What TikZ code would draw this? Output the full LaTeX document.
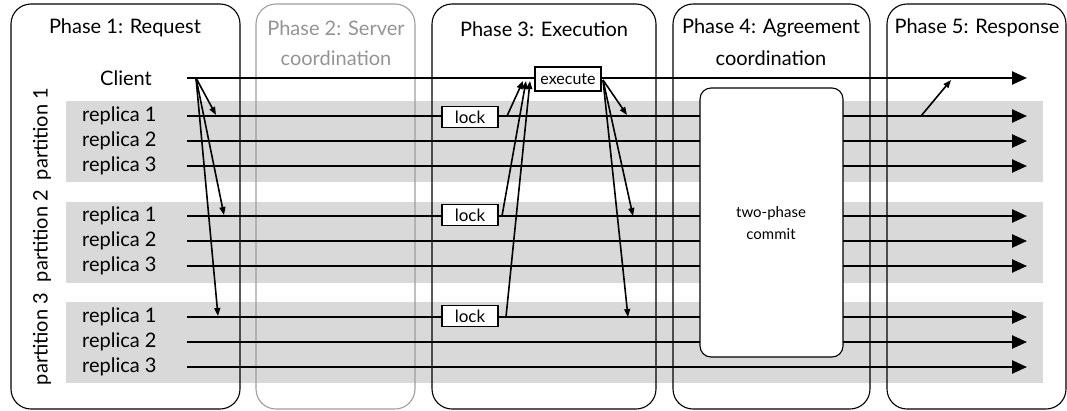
\documentclass[tikz,border=0pt]{standalone}
\usepackage{fontspec}
\setmainfont{Lato}
\usetikzlibrary{arrows.meta}
\begin{document}
\begin{tikzpicture}[x=1pt,y=-1pt,
  lbl/.style={font=\fontsize{20}{24}\selectfont, inner sep=0pt},
  band/.style={fill=black!15, draw=none},
  phasebox/.style={draw=black, line width=1.1pt, rounded corners=20pt},
  greybox/.style={draw=black!38, line width=1.1pt, rounded corners=20pt},
  timeline/.style={line width=2.4pt, -{Triangle[length=15pt,width=13pt]}},
  msg/.style={line width=1.6pt, -{Triangle[length=8pt,width=6pt]}},
  opbox/.style={draw=black, fill=white, line width=1.8pt, inner sep=0pt},
  commitbox/.style={draw=black, fill=white, line width=1.1pt, rounded corners=11pt, inner sep=0pt}
]
\useasboundingbox (0,0) rectangle (1067,410);
% grey partition bands
\fill[band] (66,101) rectangle (1043,182);
\fill[band] (66,202) rectangle (1043,283);
\fill[band] (66,302) rectangle (1043,383);
% phase boxes
\draw[phasebox] (11,4) rectangle (240,409);
\draw[greybox] (256,4) rectangle (415,409);
\draw[phasebox] (432,4) rectangle (656,409);
\draw[phasebox] (673,4) rectangle (870,409);
\draw[phasebox] (887,4) rectangle (1066,409);
% titles
\node[lbl] (t1) at (125,28) {Phase 1: Request};
\node[lbl, text=black!42] (t2a) at (336,28) {Phase 2: Server};
\node[lbl, text=black!42] (t2b) at (336,58) {coordination};
\node[lbl] (t3) at (544,29) {Phase 3: Execution};
\node[lbl] (t4a) at (771,28) {Phase 4: Agreement};
\node[lbl] (t4b) at (771,58) {coordination};
\node[lbl] (t5) at (977,28) {Phase 5: Response};
% partition labels
\node[lbl, rotate=90] (p1) at (42,134) {partition 1};
\node[lbl, rotate=90] (p2) at (42,236) {partition 2};
\node[lbl, rotate=90] (p3) at (42,339) {partition 3};
% row labels
\node[lbl] (cl) at (126,78) {Client};
\foreach \p/\y in {1/116,2/216,3/317}{
  \node[lbl, anchor=west] (r\p a) at (82,\y) {replica 1};
  \node[lbl, anchor=west] (r\p b) at (82,\y+25) {replica 2};
  \node[lbl, anchor=west] (r\p c) at (82,\y+50) {replica 3};
}
% timelines
\coordinate (cs) at (187,78); \coordinate (ce) at (1027,78);
\draw[timeline] (cs) -- (ce);
\foreach \p/\y in {1/116,2/216,3/317}{
  \foreach \r/\d in {a/0,b/25,c/50}{
    \coordinate (s\p\r) at (187,\y+\d);
    \coordinate (e\p\r) at (1027,\y+\d);
    \draw[timeline] (s\p\r) -- (e\p\r);
  }
}
% two-phase commit
\node[commitbox, minimum width=143pt, minimum height=269pt] (tpc) at (771.5,222.5) {};
\node[lbl, font=\fontsize{15}{18}\selectfont] (tpct) at (771,213) {two-phase};
\node[lbl, font=\fontsize{15}{18}\selectfont] (tpcc) at (771,234) {commit};
% lock / execute
\node[opbox, font=\fontsize{17}{20}\selectfont, minimum width=56pt, minimum height=21pt] (l1) at (470,117) {lock};
\node[opbox, font=\fontsize{17}{20}\selectfont, minimum width=56pt, minimum height=21pt] (l2) at (470,215) {lock};
\node[opbox, font=\fontsize{17}{20}\selectfont, minimum width=56pt, minimum height=21pt] (l3) at (470,316) {lock};
\node[opbox, font=\fontsize{16}{19}\selectfont, minimum width=66pt, minimum height=24pt] (ex) at (568,79) {execute};
% message coordinates
\coordinate (c0) at (196,78);
\coordinate (a1) at (216,115);
\coordinate (a2) at (224,215);
\coordinate (a3) at (218,316);
\coordinate (lo1) at (507,116);
\coordinate (lo2) at (502,216);
\coordinate (lo3) at (506,317);
\coordinate (x1) at (523,81);
\coordinate (x2) at (526,81);
\coordinate (x3) at (530,81);
\coordinate (xo) at (603,80);
\coordinate (b1) at (627,115);
\coordinate (b2) at (633,216);
\coordinate (b3) at (628,317);
\coordinate (ro) at (921,116);
\coordinate (ri) at (951,80);
% messages
\draw[msg] (c0) -- (a1);
\draw[msg] (c0) -- (a2);
\draw[msg] (c0) -- (a3);
\draw[msg] (lo1) -- (x1);
\draw[msg] (lo2) -- (x2);
\draw[msg] (lo3) -- (x3);
\draw[msg] (xo) -- (b1);
\draw[msg] (xo) -- (b2);
\draw[msg] (xo) -- (b3);
\draw[msg] (ro) -- (ri);
\end{tikzpicture}
\end{document}
